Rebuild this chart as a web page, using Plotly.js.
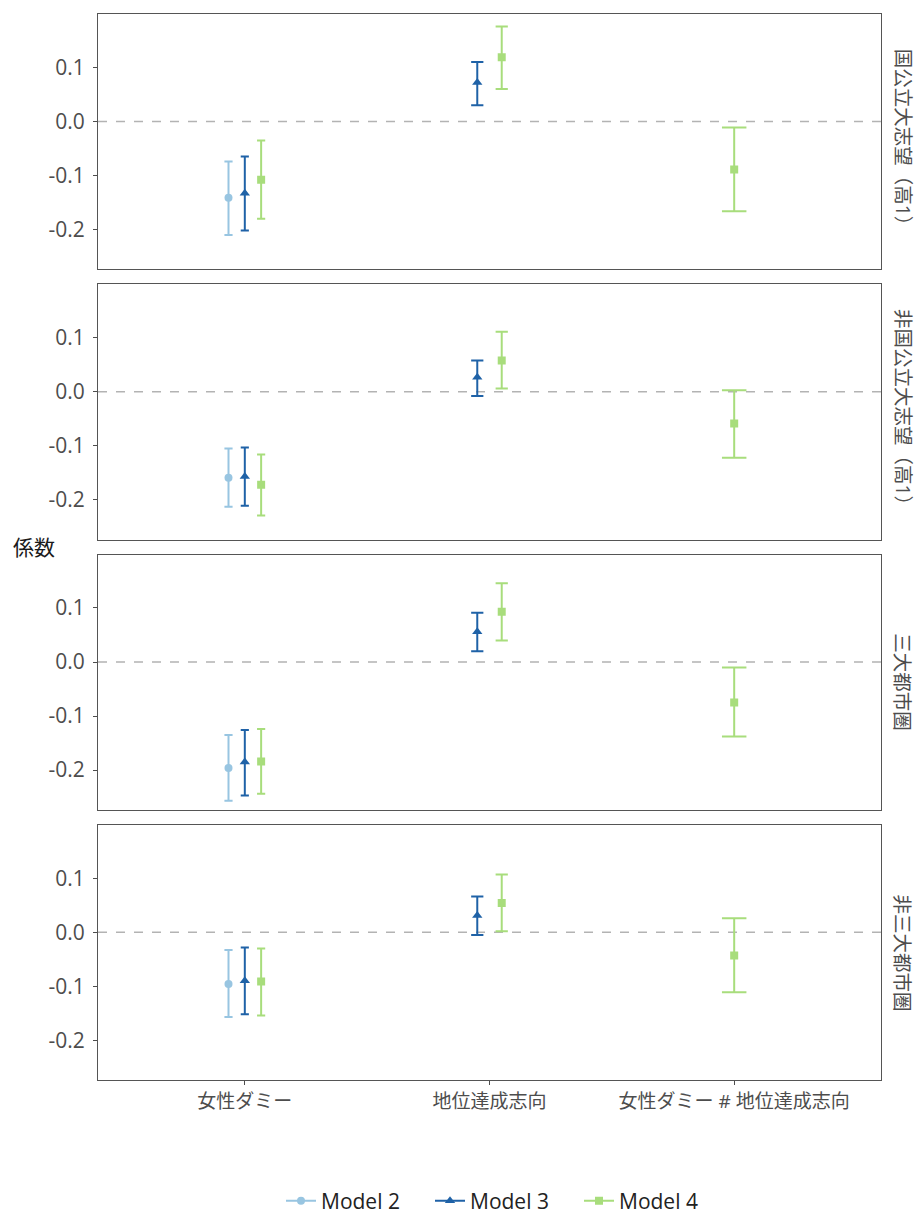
<!DOCTYPE html>
<html>
<head>
<meta charset="utf-8">
<script src="https://cdn.plot.ly/plotly-3.0.1.min.js"></script>
<style>
  html, body { margin: 0; padding: 0; background: #ffffff; }
  #chart { width: 917px; height: 1216px; }
</style>
</head>
<body>
<div id="chart"></div>
<script>
// Coefficient estimates with confidence intervals, one facet row per sample.
const categories = ['女性ダミー', '地位達成志向', '女性ダミー # 地位達成志向'];
const panels = ['国公立大志望（高1）', '非国公立大志望（高1）', '三大都市圏', '非三大都市圏'];
const models = ['Model 2', 'Model 3', 'Model 4'];

// [panel][category] : estimate, lower bound, upper bound (null = term not in model)
const model2Est = [[-0.141, null, null], [-0.159, null, null], [-0.196, null, null], [-0.096, null, null]];
const model2Lo  = [[-0.210, null, null], [-0.213, null, null], [-0.257, null, null], [-0.157, null, null]];
const model2Hi  = [[-0.074, null, null], [-0.105, null, null], [-0.135, null, null], [-0.033, null, null]];

const model3Est = [[-0.133, 0.072, null], [-0.157, 0.027, null], [-0.185, 0.056, null], [-0.090, 0.031, null]];
const model3Lo  = [[-0.202, 0.030, null], [-0.211, -0.008, null], [-0.247, 0.020, null], [-0.152, -0.005, null]];
const model3Hi  = [[-0.065, 0.110, null], [-0.103, 0.058, null], [-0.126, 0.091, null], [-0.028, 0.066, null]];

const model4Est = [[-0.108, 0.119, -0.089], [-0.172, 0.058, -0.059], [-0.184, 0.093, -0.075], [-0.091, 0.054, -0.043]];
const model4Lo  = [[-0.180, 0.060, -0.166], [-0.229, 0.006, -0.122], [-0.244, 0.040, -0.138], [-0.154, 0.002, -0.111]];
const model4Hi  = [[-0.035, 0.176, -0.011], [-0.116, 0.111, 0.003], [-0.124, 0.146, -0.010], [-0.030, 0.107, 0.026]];

const yTickVals = [-0.2, -0.1, 0.0, 0.1];
const yTickText = ['-0.2', '-0.1', '0.0', '0.1'];

// styling
const modelColors = ['#98c5e1', '#1f62a7', '#a8dd7c'];
const modelSymbols = ['circle', 'triangle-up', 'square'];
const modelSizes = [8, 9, 8];
const estimates = [model2Est, model3Est, model4Est];
const lowers = [model2Lo, model3Lo, model4Lo];
const uppers = [model2Hi, model3Hi, model4Hi];

const FONT = '"Open Sans", "Noto Sans CJK JP", sans-serif';
const W = 917, H = 1216;
const M = { l: 98, r: 36, t: 14, b: 136, autoexpand: false };
const plotW = W - M.l - M.r;
const plotH = H - M.t - M.b;
const gap = 15;
const panelH = (plotH - gap * (panels.length - 1)) / panels.length;
const xRange = [0.4, categories.length + 0.6];
const pxPerUnit = plotW / (xRange[1] - xRange[0]);
const dodgeWidth = 0.2;
const capWidth = 0.1;
const legendCenterPx = 1201;
const legendLeftPx = 281;

const traces = [];
const layout = {
  width: W, height: H,
  margin: M,
  paper_bgcolor: '#ffffff',
  plot_bgcolor: '#ffffff',
  font: { family: FONT, color: '#4d4d4d', size: 19 },
  showlegend: true,
  legend: {
    orientation: 'h', x: (legendLeftPx - M.l) / plotW, xanchor: 'left',
    y: -(legendCenterPx - (H - M.b)) / plotH, yanchor: 'middle',
    font: { size: 21, color: '#222222' },
    entrywidth: 104, entrywidthmode: 'pixels', tracegroupgap: 0
  },
  shapes: [],
  annotations: []
};

panels.forEach((panelName, p) => {
  const sfx = p === 0 ? '' : String(p + 1);
  const top = 1 - (p * (panelH + gap)) / plotH;
  const bottom = top - panelH / plotH;
  const isBottom = p === panels.length - 1;

  layout['xaxis' + sfx] = {
    domain: [0, 1], anchor: 'y' + sfx, range: xRange,
    tickvals: categories.map((_, i) => i + 1), ticktext: categories,
    showticklabels: isBottom, ticks: isBottom ? 'outside' : '', ticklen: 4, tickwidth: 1,
    tickcolor: '#4d4d4d',
    tickfont: { size: 19, color: '#4d4d4d' },
    showgrid: false, zeroline: false,
    showline: true, mirror: true, linecolor: '#555555', linewidth: 1
  };
  layout['yaxis' + sfx] = {
    domain: [bottom, top], anchor: 'x' + sfx, range: [-0.2735, 0.199],
    tickvals: yTickVals, ticktext: yTickText,
    ticks: 'outside', ticklen: 4, tickwidth: 1, tickcolor: '#4d4d4d',
    ticklabelstandoff: 4,
    tickfont: { size: 21, color: '#4d4d4d' },
    showgrid: false, zeroline: false,
    showline: true, mirror: true, linecolor: '#555555', linewidth: 1
  };

  // reference line at zero
  layout.shapes.push({
    type: 'line', xref: 'x' + sfx + ' domain', yref: 'y' + sfx,
    x0: 0, x1: 1, y0: 0, y1: 0, layer: 'below',
    line: { color: '#b3b3b3', width: 1.5, dash: '9px,9px' }
  });

  // facet strip label on the right
  layout.annotations.push({
    xref: 'paper', yref: 'paper', x: 1 + 22 / plotW, y: (top + bottom) / 2,
    xanchor: 'center', yanchor: 'middle', textangle: 90, showarrow: false,
    text: panelName, font: { size: 19.5, color: '#4d4d4d', family: FONT }
  });

  categories.forEach((cat, c) => {
    const present = models.map((_, m) => m).filter(m => estimates[m][p][c] !== null);
    const n = present.length;
    present.forEach((m, j) => {
      const est = estimates[m][p][c];
      const offset = (j - (n - 1) / 2) * dodgeWidth / n;
      traces.push({
        type: 'scatter', mode: 'lines+markers',
        x: [c + 1 + offset], y: [est],
        xaxis: 'x' + sfx, yaxis: 'y' + sfx,
        name: models[m], legendgroup: models[m],
        showlegend: p === 0 && c === 0,
        line: { color: modelColors[m], width: 2 },
        marker: { color: modelColors[m], symbol: modelSymbols[m], size: modelSizes[m] },
        error_y: {
          type: 'data', symmetric: false,
          array: [uppers[m][p][c] - est], arrayminus: [est - lowers[m][p][c]],
          color: modelColors[m], thickness: 2,
          width: (capWidth / 2 / n) * pxPerUnit
        },
        hoverinfo: 'skip'
      });
    });
  });
});

// y-axis title, drawn upright
layout.annotations.push({
  xref: 'paper', yref: 'paper', x: -64 / plotW, y: 0.5,
  xanchor: 'center', yanchor: 'middle', showarrow: false,
  text: '係数', font: { size: 21, color: '#1a1a1a', family: FONT }
});

Plotly.newPlot('chart', traces, layout, { staticPlot: true, displayModeBar: false });
</script>
</body>
</html>
